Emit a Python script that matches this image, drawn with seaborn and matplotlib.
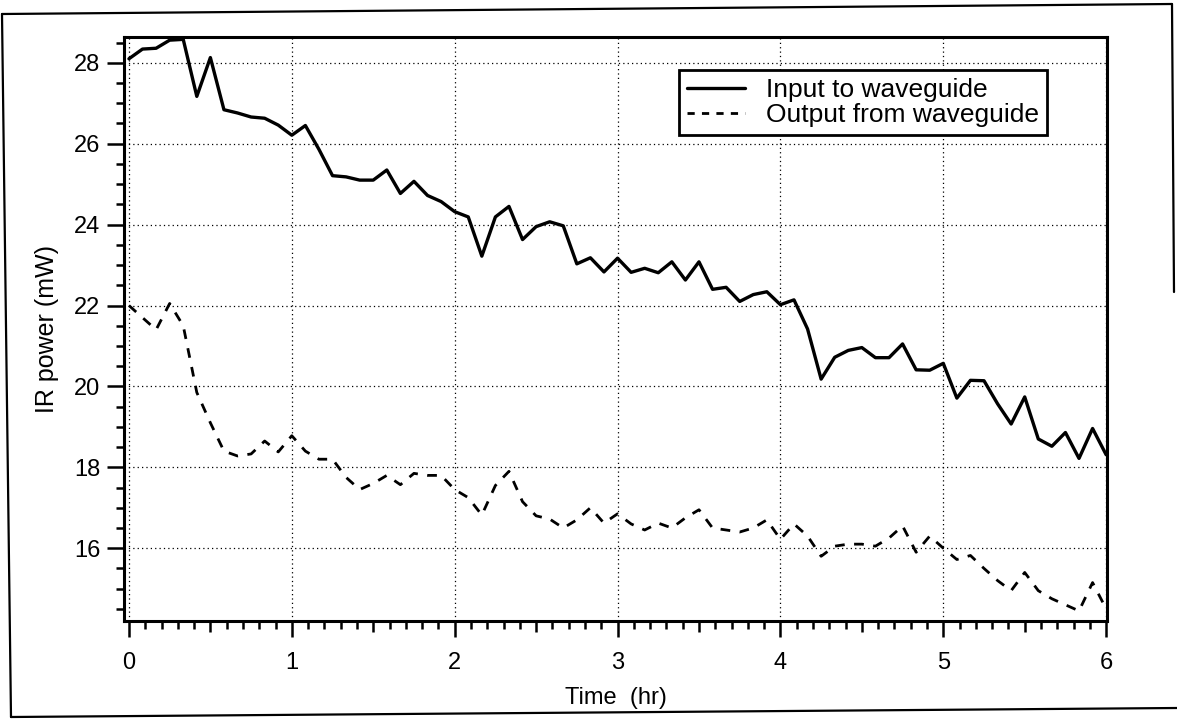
import numpy as np
import pandas as pd
import matplotlib
matplotlib.use("Agg")
import matplotlib.pyplot as plt
import seaborn as sns
from matplotlib.lines import Line2D
from matplotlib.ticker import FixedLocator

# ---- data ----
time_min = [0, 5, 10, 15, 20, 25, 30, 35, 40, 45, 50, 55, 60, 65, 70, 75, 80, 85, 90, 95,
            100, 105, 110, 115, 120, 125, 130, 135, 140, 145, 150, 155, 160, 165, 170, 175,
            180, 185, 190, 195, 200, 205, 210, 215, 220, 225, 230, 235, 240, 245, 250, 255,
            260, 265, 270, 275, 280, 285, 290, 295, 300, 305, 310, 315, 320, 325, 330, 335,
            340, 345, 350, 355, 360]

input_mw = [28.10, 28.34, 28.36, 28.56, 28.58, 27.17, 28.13, 26.84, 26.76, 26.66,
            26.63, 26.46, 26.21, 26.45, 25.86, 25.21, 25.18, 25.10, 25.10, 25.35,
            24.77, 25.07, 24.72, 24.57, 24.32, 24.19, 23.22, 24.19, 24.45, 23.63,
            23.95, 24.07, 23.97, 23.03, 23.18, 22.83, 23.17, 22.82, 22.92, 22.81,
            23.08, 22.63, 23.08, 22.40, 22.45, 22.10, 22.27, 22.34, 22.02, 22.14,
            21.42, 20.18, 20.72, 20.89, 20.96, 20.71, 20.71, 21.05, 20.41, 20.40,
            20.57, 19.71, 20.15, 20.14, 19.57, 19.07, 19.74, 18.70, 18.52, 18.86,
            18.22, 18.96, 18.31]

output_mw = [22.00, 21.70, 21.40, 22.05, 21.50, 19.85, 19.10, 18.40, 18.28, 18.33,
             18.65, 18.38, 18.78, 18.40, 18.20, 18.20, 17.75, 17.45, 17.60, 17.80,
             17.57, 17.85, 17.80, 17.80, 17.45, 17.25, 16.82, 17.55, 17.90, 17.15,
             16.80, 16.72, 16.50, 16.70, 17.00, 16.62, 16.85, 16.60, 16.45, 16.62,
             16.50, 16.75, 16.95, 16.50, 16.45, 16.40, 16.50, 16.70, 16.22, 16.60,
             16.30, 15.80, 16.05, 16.10, 16.10, 16.05, 16.25, 16.55, 15.90, 16.30,
             16.00, 15.72, 15.82, 15.50, 15.20, 14.95, 15.40, 14.95, 14.75, 14.60,
             14.45, 15.15, 14.50]

series_names = ["Input to waveguide", "Output from waveguide"]
x_ticks = [0, 1, 2, 3, 4, 5, 6]
y_ticks = [16, 18, 20, 22, 24, 26, 28]

# ---- style ----
sns.set_style("ticks")
plt.rcParams['font.family'] = ['Liberation Sans', 'DejaVu Sans']
plt.rcParams['text.color'] = 'black'
plt.rcParams['axes.labelcolor'] = 'black'
plt.rcParams['xtick.color'] = 'black'
plt.rcParams['ytick.color'] = 'black'

fig = plt.figure(figsize=(11.77, 7.19), dpi=100)
ax = fig.add_axes([0.1054, 0.1363, 0.8351, 0.8129])

t_hr = np.array(time_min) / 60.0
df_in = pd.DataFrame({"Time": t_hr, "Power": input_mw})
df_out = pd.DataFrame({"Time": t_hr, "Power": output_mw})

sns.lineplot(data=df_in, x="Time", y="Power", ax=ax, color="black",
             linewidth=2.4, label=series_names[0])
sns.lineplot(data=df_out, x="Time", y="Power", ax=ax, color="black",
             linewidth=2.0, label=series_names[1])
ax.lines[1].set_dashes((3.5, 3.4))

ax.set_xlim(-0.03, 6.005)
ax.set_ylim(14.2, 28.65)

# ticks
ax.xaxis.set_major_locator(FixedLocator(x_ticks))
minor_x = [i / 10 for i in range(0, 61) if i % 10 != 0]
ax.xaxis.set_minor_locator(FixedLocator(minor_x))
ax.yaxis.set_major_locator(FixedLocator(y_ticks))
minor_y = [14.5 + 0.5 * i for i in range(29) if (14.5 + 0.5 * i) not in y_ticks]
ax.yaxis.set_minor_locator(FixedLocator(minor_y))
ax.set_xticklabels([str(v) for v in x_ticks])
ax.set_yticklabels([str(v) for v in y_ticks])

ax.tick_params(axis='x', which='major', direction='out', length=11.5, width=1.8,
               labelsize=17, pad=11, colors='black')
ax.tick_params(axis='x', which='minor', direction='out', length=5.5, width=1.8)
ax.tick_params(axis='y', which='major', direction='out', length=12, width=1.8,
               labelsize=17, pad=5, colors='black')
ax.tick_params(axis='y', which='minor', direction='out', length=5.5, width=1.8)

# medium ticks at half hours
fig.canvas.draw()
for tk in ax.xaxis.get_minor_ticks():
    loc = tk.get_loc()
    if abs((loc * 10) % 10 - 5) < 1e-6:
        tk.tick1line.set_markersize(8)

for sp in ax.spines.values():
    sp.set_linewidth(2.2)
    sp.set_color('black')

ax.grid(True, which='major', color='black', linestyle=(0, (1, 2.5)), linewidth=0.9)

ax.set_xlabel("Time  (hr)", fontsize=17, labelpad=9)
ax.set_ylabel("IR power (mW)", fontsize=18, labelpad=11)

leg = ax.legend(loc='upper right', bbox_to_anchor=(0.939, 0.943), fontsize=19,
                frameon=True, fancybox=False, framealpha=1, edgecolor='black',
                handlelength=2.2, handletextpad=0.8, labelspacing=0.05,
                borderpad=0.3, borderaxespad=0)
leg.get_frame().set_linewidth(2.0)
leg.legend_handles[1].set_dashes((2.6, 2.6))

# scanned page frame
W, H = 1177.0, 719.0
def fl(x0, y0, x1, y1, lw=1.6):
    fig.add_artist(Line2D([x0 / W, x1 / W], [1 - y0 / H, 1 - y1 / H],
                          transform=fig.transFigure, color='black', linewidth=lw))
fl(2, 14, 1172, 4)
fl(2, 14, 11, 717)
fl(11, 717, 1177, 708)
fl(1172, 4, 1174, 292)

fig.savefig("out.png", dpi=100, facecolor='white')
